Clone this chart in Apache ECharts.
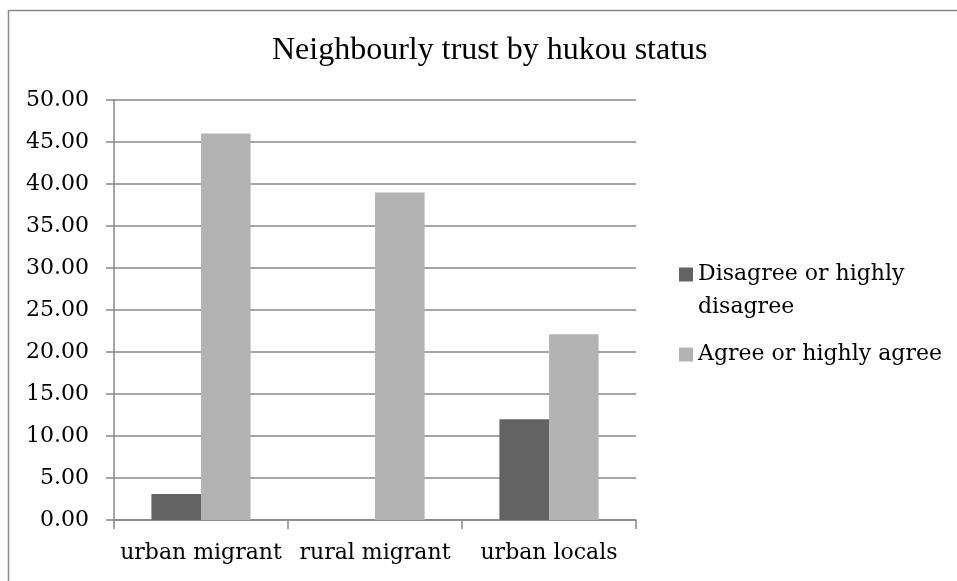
<!DOCTYPE html>
<html>
<head>
<meta charset="utf-8">
<script src="https://cdn.jsdelivr.net/npm/echarts@6/dist/echarts.min.js"></script>
<style>html,body{margin:0;padding:0;background:#fff}#c{width:957px;height:581px}</style>
</head>
<body>
<div id="c"></div>
<script>
const titleText = 'Neighbourly trust by hukou status';
const categories = ['urban migrant', 'rural migrant', 'urban locals'];
const seriesNames = ['Disagree or highly disagree', 'Agree or highly agree'];
const disagreeValues = [3.1, 0, 12.0];
const agreeValues = [46.0, 39.0, 22.1];
const yTicks = [0, 5, 10, 15, 20, 25, 30, 35, 40, 45, 50];

const serif = 'DejaVu Serif';
const gridColor = '#878787';
const chart = echarts.init(document.getElementById('c'), null, {renderer: 'canvas'});
chart.setOption({
  animation: false,
  backgroundColor: '#ffffff',
  title: {
    text: titleText,
    left: 272,
    top: 35,
    padding: 0,
    textStyle: {fontFamily: 'Liberation Serif', fontSize: 32, fontWeight: 'normal', color: '#000'}
  },
  graphic: [{
    type: 'rect',
    shape: {x: 8.5, y: 10.5, width: 1000, height: 700},
    style: {fill: 'none', stroke: '#8a8a8a', lineWidth: 1.5},
    silent: true
  }],
  legend: [{
    data: [seriesNames[0]],
    left: 679, top: 225, padding: 0,
    icon: 'rect', itemWidth: 14, itemHeight: 14,
    formatter: () => ' \nDisagree or highly\ndisagree',
    textStyle: {fontFamily: serif, fontSize: 22, color: '#000', lineHeight: 33}
  }, {
    data: [seriesNames[1]],
    left: 679, top: 338, padding: 0,
    icon: 'rect', itemWidth: 14, itemHeight: 14,
    textStyle: {fontFamily: serif, fontSize: 22, color: '#000', lineHeight: 33}
  }],
  grid: {left: 114, right: 321, top: 100, bottom: 61, containLabel: false},
  xAxis: {
    type: 'category',
    data: categories,
    axisLine: {lineStyle: {color: gridColor, width: 1.5}},
    axisTick: {show: true, length: 9, lineStyle: {color: gridColor, width: 1.5}},
    axisLabel: {fontFamily: serif, fontSize: 22, color: '#000', margin: 22, interval: 0}
  },
  yAxis: {
    type: 'value',
    min: yTicks[0], max: yTicks[yTicks.length - 1], interval: 5,
    axisLine: {show: true, lineStyle: {color: gridColor, width: 1.5}},
    axisTick: {show: true, length: 8, lineStyle: {color: gridColor, width: 1.5}},
    splitLine: {lineStyle: {color: gridColor, width: 1.5}},
    axisLabel: {fontFamily: serif, fontSize: 22, color: '#000', margin: 25,
      formatter: v => v.toFixed(2)}
  },
  series: [{
    name: seriesNames[0], type: 'bar', data: disagreeValues,
    itemStyle: {color: '#636363'}, barGap: '0%', barCategoryGap: '43%'
  }, {
    name: seriesNames[1], type: 'bar', data: agreeValues,
    itemStyle: {color: '#b3b3b3'}, barGap: '0%', barCategoryGap: '43%'
  }]
});
</script>
</body>
</html>
